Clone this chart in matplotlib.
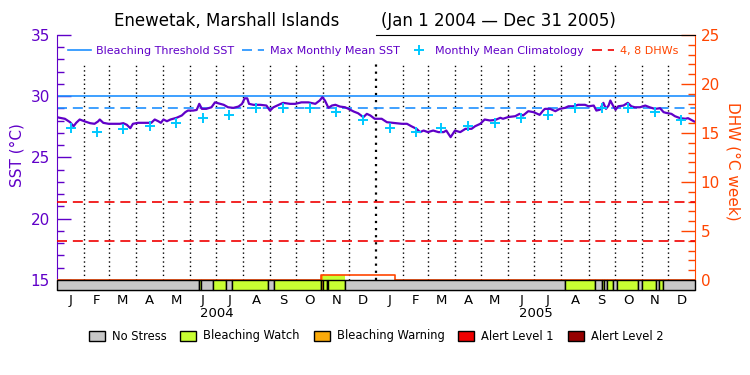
import matplotlib
matplotlib.use("Agg")
import matplotlib.pyplot as plt
from matplotlib.lines import Line2D
from matplotlib.patches import Patch
from matplotlib.ticker import FixedLocator
import numpy as np
import pandas as pd

# ---- data ----
site = "Enewetak, Marshall Islands"
period = "(Jan 1 2004 \u2014 Dec 31 2005)"

# days since Jan 1 2004 and SST (deg C)
sst_day = [0, 3, 9, 15, 19, 22, 26, 32, 38, 43, 47, 49, 53, 59, 72, 76, 80, 84, 87, 93,
           108, 112, 116, 119, 122, 126, 130, 133, 137, 143, 147, 150, 156, 160, 163, 166,
           171, 177, 181, 185, 191, 196, 202, 208, 212, 215, 218, 220, 225, 233, 240, 244,
           248, 254, 259, 267, 273, 280, 288, 296, 301, 304, 307, 311, 315, 319, 324, 330,
           334, 340, 345, 351, 355, 359, 364, 372, 378, 385, 395, 401, 406, 412, 416, 420,
           425, 431, 437, 443, 446, 451, 456, 462, 468, 475, 479, 485, 490, 496, 502, 508,
           511, 517, 525, 530, 534, 540, 546, 548, 553, 557, 559, 565, 571, 576, 582, 586,
           592, 597, 605, 609, 615, 618, 622, 626, 629, 632, 634, 637, 640, 643, 649, 654,
           658, 662, 668, 674, 679, 685, 691, 695, 698, 704, 708, 714, 720, 723, 727, 730]
sst_val = [28.29, 28.24, 28.16, 27.88, 27.55, 27.83, 28.10, 27.94, 27.80, 27.75, 27.94, 28.10,
           27.83, 27.75, 27.75, 27.80, 27.67, 27.39, 27.75, 27.83, 27.83, 28.10, 27.96, 27.83,
           28.10, 27.96, 28.10, 28.16, 28.24, 28.43, 28.70, 28.83, 28.83, 28.88, 29.38, 28.97,
           28.97, 29.10, 29.50, 29.42, 29.30, 29.10, 29.05, 29.16, 29.38, 29.83, 29.83, 29.38,
           29.30, 29.30, 29.24, 28.83, 29.10, 29.30, 29.46, 29.38, 29.38, 29.50, 29.50, 29.38,
           29.65, 29.92, 29.65, 29.05, 29.24, 29.30, 29.16, 29.10, 28.97, 28.75, 28.61, 28.29,
           28.56, 28.43, 28.16, 28.16, 27.88, 27.83, 27.75, 27.75, 27.55, 27.34, 27.07, 27.20,
           27.07, 27.20, 27.07, 27.07, 27.20, 26.66, 27.20, 27.07, 27.34, 27.34, 27.55, 27.75,
           28.10, 28.02, 28.06, 28.24, 28.16, 28.30, 28.37, 28.56, 28.43, 28.78, 28.70, 28.64,
           28.48, 28.83, 28.97, 28.97, 28.78, 28.97, 29.05, 29.18, 29.18, 29.30, 29.30, 29.18,
           29.24, 28.83, 28.90, 29.46, 28.97, 29.24, 29.65, 29.24, 28.90, 29.18, 29.24, 29.46,
           29.18, 29.10, 29.10, 29.24, 29.10, 28.97, 29.02, 28.70, 28.64, 28.56, 28.37, 28.21,
           28.16, 28.21, 28.06, 27.94]

clim_val = [27.39, 27.07, 27.34, 27.53, 27.83, 28.24, 28.48, 29.00, 29.05, 29.05, 28.70, 28.02,
            27.42, 27.07, 27.39, 27.53, 27.83, 28.24, 28.48, 29.00, 29.05, 29.05, 28.70, 28.02]

mmm = 29.05
threshold = mmm + 1.0
dhw_marks = [4, 8]

dhw_day = [0, 303, 303, 387, 387, 731]
dhw_val = [0, 0, 0.5, 0.5, 0, 0]

stress_start = [0, 163, 165, 179, 194, 200, 242, 249, 303, 305, 309, 311, 330,
                582, 616, 624, 627, 630, 637, 642, 666, 670, 686, 690, 694]
stress_level = [0, 1, 0, 1, 0, 1, 0, 1, 2, 1, 1, 1, 0,
                1, 0, 1, 0, 1, 0, 1, 0, 1, 0, 1, 0]
stress_names = ["No Stress", "Bleaching Watch", "Bleaching Warning", "Alert Level 1", "Alert Level 2"]
stress_colors = ["#c8c8c8", "#c8ff32", "#faaa0a", "#f00000", "#960000"]

month_letters = list("JFMAMJJASOND") * 2
years = ["2004", "2005"]

purple = "#6000c8"
orange = "#ff4500"
blue = "#1e90ff"
cyan = "#00c8ff"
red = "#f00000"

start = pd.Timestamp("2004-01-01")
month_starts = pd.date_range("2004-01-01", "2006-01-01", freq="MS")
bounds = np.array((month_starts - start).days)
mids = (bounds[:-1] + bounds[1:]) / 2
total = bounds[-1]

fig = plt.figure(figsize=(7.5, 3.75), dpi=100)
ax = fig.add_axes([57 / 750, 85 / 375, 638 / 750, 255 / 375])
ax2 = ax.twinx()

sst_lo = 14.18
ax.set_ylim(sst_lo, 35)
f = (15 - sst_lo) / (35 - sst_lo)
dhw_lo = -25 * f / (1 - f)
ax2.set_ylim(dhw_lo, 25)
ax.set_xlim(0, total)

# month separators
for b in bounds[1:-1]:
    bold = b == 366
    ax.plot([b, b], [15, 32.63], color="black", lw=1.6 if bold else 1,
            linestyle=(0, (1, 2.2)), zorder=1)

ax.axhline(threshold, color=blue, lw=1.2, zorder=2)
ax.axhline(mmm, color=blue, lw=1.2, dashes=(6, 3.5), zorder=2)
ax.plot(sst_day, sst_val, color=purple, lw=1.6, zorder=3)
ax.plot(mids, clim_val, linestyle="none", marker="+", ms=7, mew=1.4, color=cyan, zorder=4)

for lvl in dhw_marks:
    ax2.axhline(lvl, color=red, lw=1.2, dashes=(6, 3.5), zorder=2)

# stress fill under the DHW curve, then the bar
for i, s in enumerate(stress_start):
    e = stress_start[i + 1] if i + 1 < len(stress_start) else total
    c = stress_colors[stress_level[i]]
    if stress_level[i] > 0:
        xs = np.linspace(s, e, 40)
        ys = np.interp(xs, dhw_day, dhw_val)
        ax2.fill_between(xs, 0, ys, color=c, lw=0, zorder=1)
    ax2.bar(s, -dhw_lo, bottom=dhw_lo, width=e - s, align="edge", color=c,
            edgecolor="black", lw=1, zorder=4, clip_on=False)

ax2.plot(dhw_day, dhw_val, color=orange, lw=1.2, zorder=3)

# spines and ticks
for sp in ["top", "right", "bottom"]:
    ax.spines[sp].set_visible(False)
ax.spines["left"].set_color(purple)
ax.spines["left"].set_bounds(15, 35)
ax2.spines["left"].set_visible(False)
ax2.spines["top"].set_bounds(366, total)
ax2.spines["right"].set_color(orange)
ax2.spines["right"].set_bounds(0, 25)

ax.yaxis.set_major_locator(FixedLocator([15, 20, 25, 30, 35]))
ax.yaxis.set_minor_locator(FixedLocator(range(15, 36)))
ax.tick_params(axis="y", which="both", direction="in", colors=purple, labelsize=11, pad=5)
ax.tick_params(axis="y", which="major", length=10, width=1)
ax.tick_params(axis="y", which="minor", length=5, width=1)

ax2.yaxis.set_major_locator(FixedLocator([0, 5, 10, 15, 20, 25]))
ax2.yaxis.set_minor_locator(FixedLocator(range(0, 26)))
ax2.tick_params(axis="y", which="both", direction="in", colors=orange, labelsize=11, pad=4)
ax2.tick_params(axis="y", which="major", length=10, width=1)
ax2.tick_params(axis="y", which="minor", length=5, width=1)

ax.set_xticks(mids, month_letters)
ax.tick_params(axis="x", length=0, labelsize=9.5, pad=3)
ax2.tick_params(axis="x", length=0)
for k, yr in enumerate(years):
    ax.text((bounds[12 * k] + bounds[12 * k + 12]) / 2, -0.094, yr, transform=ax.get_xaxis_transform(),
            ha="center", va="center", fontsize=9.5)

fig.text(17 / 750, 1 - 155 / 375, "SST (\u00b0C)", rotation=90, ha="center", va="center",
         color=purple, fontsize=11)
fig.text(733 / 750, 1 - 161 / 375, "DHW (\u00b0C week)", rotation=270, ha="center", va="center",
         color=orange, fontsize=11)

fig.text(227 / 750, 1 - 21 / 375, site, ha="center", va="center", fontsize=12)
fig.text(381 / 750, 1 - 21 / 375, period, ha="left", va="center", fontsize=12)

top_handles = [
    Line2D([], [], color=blue, lw=1.2),
    Line2D([], [], color=blue, lw=1.2, dashes=(6, 3.5)),
    Line2D([], [], color=cyan, linestyle="none", marker="+", ms=7, mew=1.4),
    Line2D([], [], color=red, lw=1.2, dashes=(6, 3.5)),
]
top_labels = ["Bleaching Threshold SST", "Max Monthly Mean SST", "Monthly Mean Climatology", "4, 8 DHWs"]
ax2.legend(top_handles, top_labels, loc="center left", bbox_to_anchor=(0.018, 0.937), ncol=4,
           frameon=False, fontsize=8, handlelength=2.0, handletextpad=0.5, columnspacing=0.7,
           borderpad=0, borderaxespad=0, labelcolor=[purple, purple, purple, orange])

bottom_handles = [Patch(facecolor=c, edgecolor="black", lw=1) for c in stress_colors]
fig.legend(bottom_handles, stress_names, loc="center", bbox_to_anchor=(376 / 750, 1 - 336 / 375),
           ncol=5, frameon=False, fontsize=8.3, handlelength=1.4, handleheight=0.95,
           handletextpad=0.6, columnspacing=1.2, borderpad=0)

fig.savefig("out.png", dpi=100)
